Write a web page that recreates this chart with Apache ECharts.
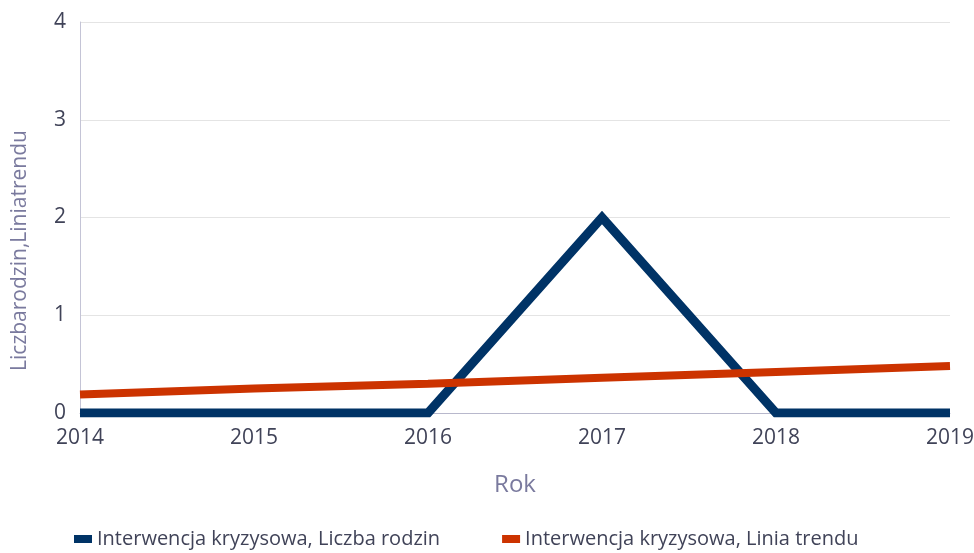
<!DOCTYPE html>
<html>
<head>
<meta charset="utf-8">
<script src="https://cdn.jsdelivr.net/npm/echarts@6/dist/echarts.min.js"></script>
<style>
  html, body { margin: 0; padding: 0; background: #fff; }
  #chart { width: 974px; height: 553px; }
</style>
</head>
<body>
<div id="chart"></div>
<script>
const years = ['2014', '2015', '2016', '2017', '2018', '2019']
const liczbaRodzin = [0, 0, 0, 2, 0, 0]
const liniaTrendu = [0.19, 0.25, 0.30, 0.36, 0.42, 0.48]
const yTicks = [0, 1, 2, 3, 4]

const textColor = '#404358'
const titleColor = '#7a7a9e'
const font = 'Open Sans'

const chart = echarts.init(document.getElementById('chart'))
chart.setOption({
  animation: false,
  textStyle: { fontFamily: font },
  grid: { left: 80, right: 24, top: 22, bottom: 140, outerBoundsMode: 'none', containLabel: false },
  legend: {
    bottom: 4,
    left: 74,
    padding: 0,
    itemGap: 62,
    itemWidth: 18,
    itemHeight: 8,
    icon: 'rect',
    textStyle: { color: textColor, fontSize: 20, fontFamily: font },
    data: ['Interwencja kryzysowa, Liczba rodzin', 'Interwencja kryzysowa, Linia trendu']
  },
  xAxis: {
    type: 'category',
    data: years,
    boundaryGap: false,
    name: 'Rok',
    nameLocation: 'middle',
    nameGap: 60,
    nameTextStyle: { color: titleColor, fontSize: 24, fontFamily: font },
    axisLine: { lineStyle: { color: '#b8b8cc', width: 1 } },
    axisTick: { show: false },
    axisLabel: { color: textColor, fontSize: 21, margin: 15 }
  },
  yAxis: {
    type: 'value',
    min: yTicks[0],
    max: yTicks[yTicks.length - 1],
    interval: 1,
    name: 'Liczbarodzin,Liniatrendu',
    nameLocation: 'middle',
    nameGap: 49,
    nameTextStyle: { color: titleColor, fontSize: 21, fontFamily: font, padding: [0, 66, 0, 0] },
    axisLine: { show: true, lineStyle: { color: '#c4c4d6', width: 1 } },
    axisTick: { show: false },
    axisLabel: { color: textColor, fontSize: 21, margin: 14 },
    splitLine: { lineStyle: { color: '#e4e4e4', width: 1 } }
  },
  series: [
    {
      name: 'Interwencja kryzysowa, Liczba rodzin',
      type: 'line',
      data: liczbaRodzin,
      symbol: 'none',
      color: '#003366',
      lineStyle: { color: '#003366', width: 9, join: 'miter' },
      z: 2
    },
    {
      name: 'Interwencja kryzysowa, Linia trendu',
      type: 'line',
      data: liniaTrendu,
      symbol: 'none',
      color: '#cc3300',
      lineStyle: { color: '#cc3300', width: 8 },
      z: 3
    }
  ]
})
</script>
</body>
</html>
